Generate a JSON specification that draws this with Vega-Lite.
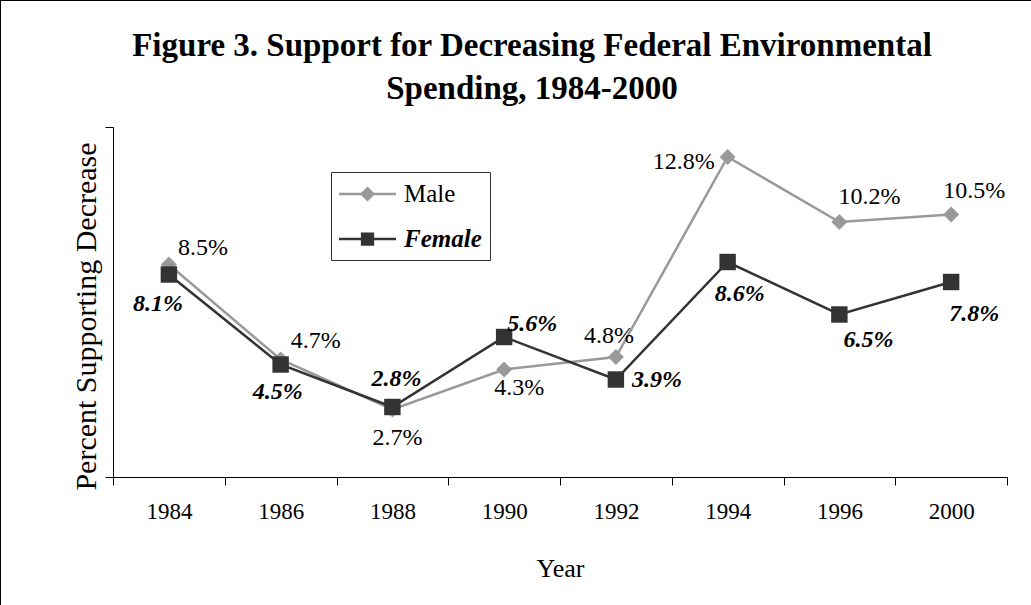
{
  "$schema": "https://vega.github.io/schema/vega-lite/v6.json",
  "width": 1034,
  "height": 608,
  "autosize": "none",
  "padding": {"left": 0, "top": 0, "right": -3, "bottom": -3},
  "background": "white",
  "title": {
    "text": ["Figure 3. Support for Decreasing Federal Environmental", "Spending, 1984-2000"],
    "font": "Liberation Serif",
    "fontSize": 33,
    "fontWeight": "bold",
    "lineHeight": 43,
    "color": "#000",
    "anchor": "middle",
    "offset": -106,
    "dx": 15
  },
  "data": {
    "values": [
      {"Year": "1984", "Sex": "Male", "Value": 0.085},
      {"Year": "1986", "Sex": "Male", "Value": 0.047},
      {"Year": "1988", "Sex": "Male", "Value": 0.027},
      {"Year": "1990", "Sex": "Male", "Value": 0.043},
      {"Year": "1992", "Sex": "Male", "Value": 0.048},
      {"Year": "1994", "Sex": "Male", "Value": 0.128},
      {"Year": "1996", "Sex": "Male", "Value": 0.102},
      {"Year": "2000", "Sex": "Male", "Value": 0.105},
      {"Year": "1984", "Sex": "Female", "Value": 0.081},
      {"Year": "1986", "Sex": "Female", "Value": 0.045},
      {"Year": "1988", "Sex": "Female", "Value": 0.028},
      {"Year": "1990", "Sex": "Female", "Value": 0.056},
      {"Year": "1992", "Sex": "Female", "Value": 0.039},
      {"Year": "1994", "Sex": "Female", "Value": 0.086},
      {"Year": "1996", "Sex": "Female", "Value": 0.065},
      {"Year": "2000", "Sex": "Female", "Value": 0.078}
    ]
  },
  "encoding": {
    "x": {
      "field": "Year",
      "type": "ordinal",
      "sort": null,
      "scale": {"type": "band", "range": [113, 1007], "paddingInner": 0, "paddingOuter": 0},
      "axis": {
        "orient": "bottom",
        "offset": -131,
        "tickBand": "extent",
        "tickSize": 8,
        "labelAngle": 0,
        "labelFont": "Liberation Serif",
        "labelFontSize": 23,
        "labelPadding": 15,
        "title": "Year",
        "titleFont": "Liberation Serif",
        "titleFontSize": 26,
        "titlePadding": 32
      }
    },
    "y": {
      "field": "Value",
      "type": "quantitative",
      "scale": {"domain": [0, 0.14], "range": [477, 127], "nice": false, "zero": true},
      "axis": {
        "orient": "left",
        "offset": -113,
        "values": [0, 0.14],
        "labels": false,
        "tickSize": 8,
        "title": "Percent Supporting Decrease",
        "titleFont": "Liberation Serif",
        "titleFontSize": 30,
        "titlePadding": 3,
        "titleY": 316
      }
    }
  },
  "layer": [
    {
      "mark": {"type": "line", "strokeWidth": 2.5},
      "encoding": {
        "color": {
          "field": "Sex",
          "type": "nominal",
          "scale": {"domain": ["Male", "Female"], "range": ["#999999", "#333333"]},
          "legend": {
            "orient": "none",
            "legendX": 331,
            "legendY": 172,
            "title": null,
            "direction": "vertical",
            "padding": 8,
            "strokeColor": "#333333",
            "fillColor": "white",
            "symbolType": "M-1,0L1,0",
            "symbolSize": 625,
            "symbolStrokeWidth": 2.5,
            "labelFont": "Liberation Serif",
            "labelFontSize": 25,
            "labelColor": "#000",
            "labelOffset": 37,
            "rowPadding": 18,
            "encode": {
              "symbols": {
                "update": {
                  "shape": {"signal": "datum.value === 'Male' ? 'M-1.12,0L3.44,0M1.16,-0.46L1.62,0L1.16,0.46L0.7,0Z' : 'M-1.12,0L3.44,0M0.73,-0.43L1.59,-0.43L1.59,0.43L0.73,0.43Z'"},
                  "fill": {"signal": "datum.value === 'Male' ? '#999999' : '#333333'"},
                  "stroke": {"signal": "datum.value === 'Male' ? '#999999' : '#333333'"},
                  "strokeWidth": {"value": 2.5},
                  "size": {"value": 625},
                  "opacity": {"value": 1}
                }
              },
              "labels": {
                "update": {
                  "fontStyle": {"signal": "datum.value === 'Female' ? 'italic' : 'normal'"},
                  "fontWeight": {"signal": "datum.value === 'Female' ? 'bold' : 'normal'"}
                }
              }
            }
          }
        },
        "detail": {"field": "Sex"}
      }
    },
    {
      "transform": [{"filter": "datum.Sex === 'Male'"}],
      "mark": {"type": "point", "filled": true, "opacity": 1, "shape": "diamond", "size": 256, "color": "#999999"}
    },
    {
      "transform": [{"filter": "datum.Sex === 'Female'"}],
      "mark": {"type": "point", "filled": true, "opacity": 1, "shape": "square", "size": 270, "color": "#333333"}
    },
    {
      "transform": [{"filter": "datum.Sex === 'Male'"}],
      "mark": {
        "type": "text",
        "font": "Liberation Serif",
        "fontSize": 24,
        "color": "#000",
        "align": "center",
        "baseline": "middle",
        "dx": {"expr": "({'1984':34,'1986':35,'1988':5,'1990':15,'1992':-7,'1994':-44,'1996':30,'2000':23})[datum.Year]"},
        "dy": {"expr": "({'1984':-17,'1986':-19,'1988':28,'1990':18,'1992':-21,'1994':5,'1996':-25,'2000':-24})[datum.Year]"}
      },
      "encoding": {
        "text": {"field": "Value", "type": "quantitative", "format": ".1%"}
      }
    },
    {
      "transform": [{"filter": "datum.Sex === 'Female'"}],
      "mark": {
        "type": "text",
        "font": "Liberation Serif",
        "fontSize": 24,
        "fontStyle": "italic",
        "fontWeight": "bold",
        "color": "#000",
        "align": "center",
        "baseline": "middle",
        "dx": {"expr": "({'1984':-11,'1986':-3,'1988':4,'1990':28,'1992':41,'1994':12,'1996':29,'2000':23})[datum.Year]"},
        "dy": {"expr": "({'1984':29,'1986':27,'1988':-28,'1990':-13,'1992':0,'1994':32,'1996':25,'2000':32})[datum.Year]"}
      },
      "encoding": {
        "text": {"field": "Value", "type": "quantitative", "format": ".1%"}
      }
    }
  ],
  "config": {
    "view": {"stroke": "#000", "strokeWidth": 2},
    "font": "Liberation Serif",
    "axis": {
      "domainColor": "#000",
      "tickColor": "#000",
      "domainWidth": 1,
      "tickWidth": 1,
      "grid": false,
      "labelFont": "Liberation Serif",
      "labelColor": "#000",
      "titleFont": "Liberation Serif",
      "titleFontWeight": "normal",
      "titleColor": "#000"
    }
  }
}
